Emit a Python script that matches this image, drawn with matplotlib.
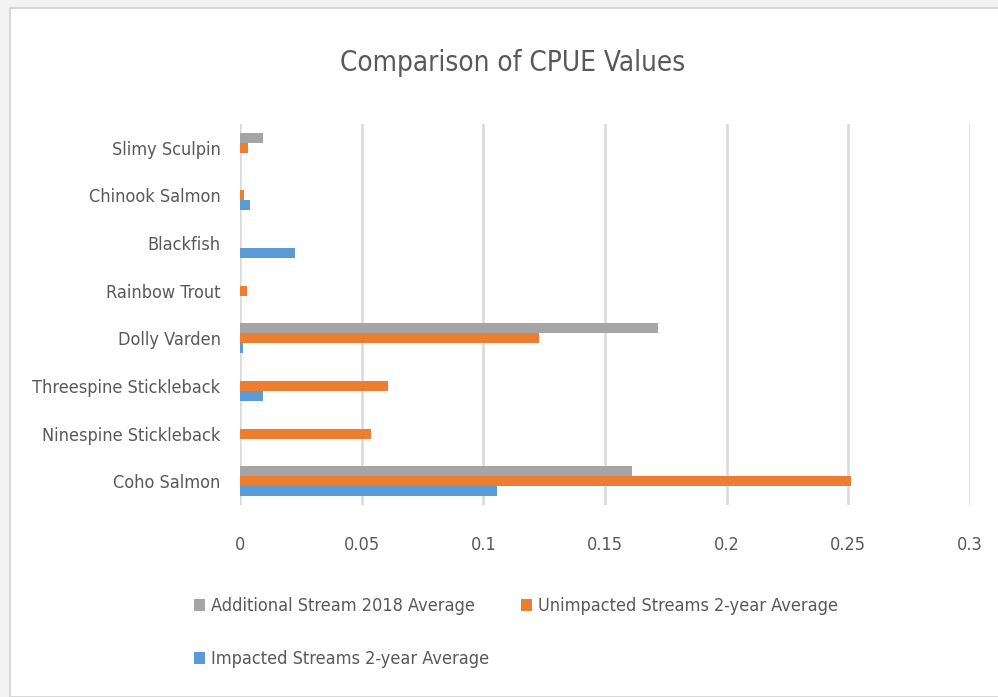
import matplotlib.pyplot as plt
import matplotlib.font_manager as fm
import numpy as np
from matplotlib.patches import Rectangle

species = ["Coho Salmon", "Ninespine Stickleback", "Threespine Stickleback", "Dolly Varden",
           "Rainbow Trout", "Blackfish", "Chinook Salmon", "Slimy Sculpin"]
impacted = [0.1056, 0.0, 0.0095, 0.0014, 0.0, 0.0226, 0.004, 0.0]
unimpacted = [0.251, 0.054, 0.061, 0.123, 0.0027, 0.0, 0.0015, 0.0033]
additional = [0.161, 0.0, 0.0, 0.1717, 0.0, 0.0, 0.0, 0.0095]
x_ticks = [0, 0.05, 0.1, 0.15, 0.2, 0.25, 0.3]
x_labels = ["0", "0.05", "0.1", "0.15", "0.2", "0.25", "0.3"]

# look for a narrow font, Calibri-ish look
narrow = None
for f in fm.fontManager.ttflist:
    if f.style != 'normal' or f.weight not in (400, 'normal', 'regular'):
        continue
    if 'Narrow' in f.name or 'Condensed' in f.name or f.stretch in ('condensed', 'semi-condensed'):
        narrow = f
        break
if narrow is not None:
    plt.rcParams['font.family'] = [narrow.name, 'DejaVu Sans']
    plt.rcParams['font.stretch'] = narrow.stretch
    fs, tfs = 13, 20
else:
    plt.rcParams['font.family'] = ['Liberation Sans', 'DejaVu Sans']
    fs, tfs = 11, 17
txt = '#595959'

fig = plt.figure(figsize=(9.98, 6.97), dpi=100, facecolor='#f3f3f3')
fig.patches.append(Rectangle((10/998, 0), 1, 1 - 8/697, transform=fig.transFigure,
                             facecolor='white', edgecolor='#d9d9d9', lw=1.5, zorder=-5))
ax = fig.add_axes([240/998, 1 - 505/697, 730/998, 381/697])
ax.set_facecolor('none')
ax.set_zorder(2)

y = np.arange(len(species))
h = 0.21
b1 = ax.barh(y - h, impacted, h, color='#5B9BD5', label='Impacted Streams 2-year Average', zorder=3)
b2 = ax.barh(y, unimpacted, h, color='#ED7D31', label='Unimpacted Streams 2-year Average', zorder=3)
b3 = ax.barh(y + h, additional, h, color='#A5A5A5', label='Additional Stream 2018 Average', zorder=3)

ax.set_xlim(0, 0.3)
ax.set_ylim(-0.5, len(species) - 0.5)
ax.set_xticks(x_ticks)
ax.set_xticklabels(x_labels)
ax.set_yticks(y)
ax.set_yticklabels(species)
ax.tick_params(axis='both', length=0, colors=txt, labelsize=fs)
ax.tick_params(axis='y', pad=14)
ax.tick_params(axis='x', pad=22)
ax.grid(axis='x', color='#d9d9d9', lw=1.8, zorder=0)
for s in ax.spines.values():
    s.set_visible(False)

fig.text(513/998, 1 - 63/697, "Comparison of CPUE Values", ha='center', va='center',
         fontsize=tfs, color=txt)

leg = fig.legend([b3, b1, b2], [b3.get_label(), b1.get_label(), b2.get_label()],
                 ncol=2, loc='upper left', bbox_to_anchor=(178/998, 1 - 581/697),
                 frameon=False, fontsize=fs, labelcolor=txt, handlelength=0.6,
                 handleheight=0.6, handletextpad=0.35, columnspacing=1.75, labelspacing=1.95)

fig.savefig("out.png", dpi=100, facecolor=fig.get_facecolor())
